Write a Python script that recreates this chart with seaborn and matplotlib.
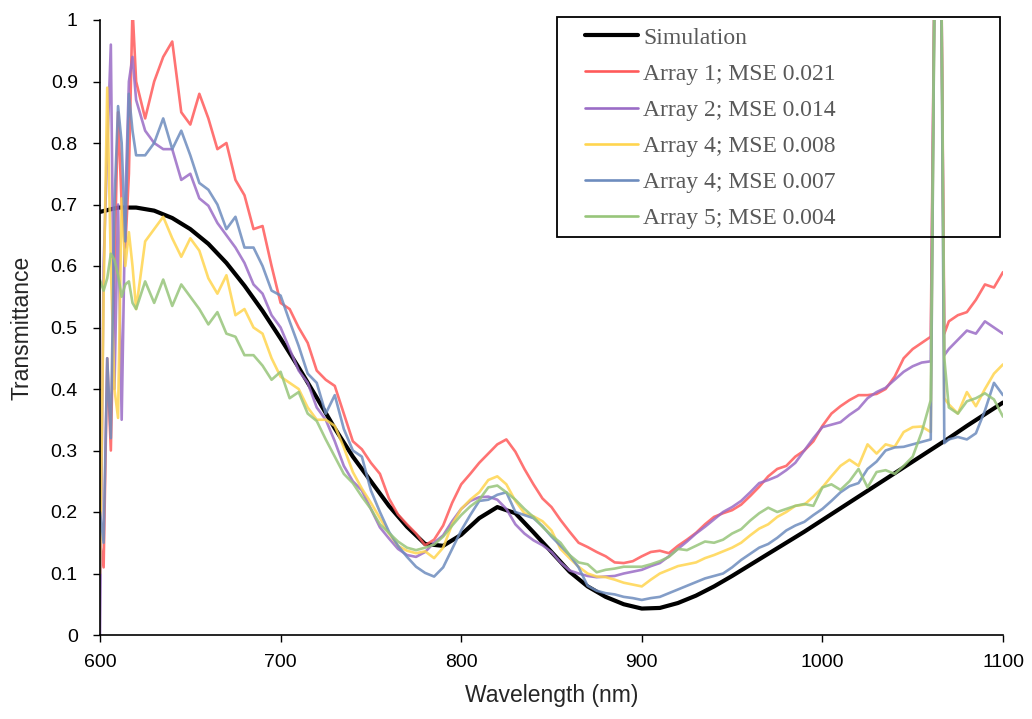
import numpy as np
import pandas as pd
import matplotlib
matplotlib.use("Agg")
import matplotlib.pyplot as plt
from matplotlib.patches import Rectangle
import seaborn as sns

# ---------------- data ----------------
sim_wl = [600, 610, 620, 630, 640, 650, 660, 670, 680, 690, 700, 710, 720, 730, 740,
          750, 760, 770, 780, 790, 800, 810, 820, 830, 840, 850, 860, 870, 880, 890,
          900, 910, 920, 930, 940, 950, 960, 970, 980, 990, 1000, 1010, 1020, 1030,
          1040, 1050, 1060, 1070, 1080, 1090, 1100]
sim_t = [0.688, 0.695, 0.695, 0.690, 0.678, 0.660, 0.636, 0.605, 0.568, 0.527, 0.482,
         0.435, 0.386, 0.336, 0.290, 0.250, 0.210, 0.176, 0.148, 0.145, 0.163, 0.190,
         0.208, 0.198, 0.167, 0.135, 0.103, 0.079, 0.062, 0.050, 0.043, 0.044, 0.052,
         0.064, 0.079, 0.096, 0.114, 0.132, 0.150, 0.168, 0.187, 0.206, 0.225, 0.244,
         0.263, 0.282, 0.301, 0.320, 0.340, 0.359, 0.378]

wl = ([600, 602, 604, 606, 608, 610, 612, 614, 616, 618, 620]
      + list(range(625, 1061, 5))
      + [1062.5, 1064, 1065.5, 1067.5]
      + list(range(1070, 1101, 5)))

array1 = [0.15, 0.11, 0.45, 0.30, 0.60, 0.85, 0.70, 0.63, 0.75, 1.02, 0.90,
          0.84, 0.90, 0.94, 0.965, 0.85, 0.83, 0.88, 0.84, 0.79, 0.80, 0.74, 0.715,
          0.66, 0.665, 0.60, 0.54, 0.53, 0.50, 0.475, 0.43, 0.415, 0.405, 0.36, 0.315,
          0.302, 0.28, 0.262, 0.222, 0.196, 0.18, 0.165, 0.146, 0.155, 0.178, 0.215,
          0.245, 0.262, 0.28, 0.295, 0.31, 0.318, 0.298, 0.27, 0.245, 0.222, 0.208,
          0.187, 0.168, 0.15, 0.143, 0.135, 0.128, 0.118, 0.117, 0.12, 0.128, 0.135,
          0.137, 0.133, 0.145, 0.155, 0.166, 0.18, 0.192, 0.198, 0.203, 0.212, 0.226,
          0.241, 0.258, 0.27, 0.275, 0.29, 0.30, 0.315, 0.34, 0.36, 0.372, 0.382, 0.39,
          0.39, 0.392, 0.40, 0.42, 0.45, 0.465, 0.475, 0.485,
          1.2, 1.3, 1.2, 0.49,
          0.51, 0.52, 0.525, 0.545, 0.57, 0.565, 0.59]

array2 = [0.0, 0.60, 0.79, 0.96, 0.40, 0.70, 0.35, 0.70, 0.90, 0.94, 0.87,
          0.82, 0.80, 0.79, 0.79, 0.74, 0.75, 0.71, 0.698, 0.67, 0.65, 0.63, 0.605,
          0.57, 0.555, 0.52, 0.50, 0.465, 0.43, 0.41, 0.37, 0.35, 0.315, 0.275, 0.25,
          0.235, 0.205, 0.175, 0.157, 0.14, 0.13, 0.127, 0.135, 0.15, 0.162, 0.185,
          0.205, 0.218, 0.224, 0.225, 0.22, 0.205, 0.18, 0.165, 0.154, 0.146, 0.135,
          0.118, 0.105, 0.10, 0.096, 0.094, 0.095, 0.096, 0.10, 0.103, 0.106, 0.112,
          0.117, 0.128, 0.14, 0.152, 0.165, 0.176, 0.188, 0.20, 0.208, 0.218, 0.232,
          0.247, 0.252, 0.258, 0.268, 0.28, 0.30, 0.32, 0.338, 0.342, 0.346, 0.358,
          0.368, 0.385, 0.395, 0.402, 0.415, 0.428, 0.437, 0.443, 0.445,
          1.2, 1.3, 1.2, 0.455,
          0.465, 0.48, 0.495, 0.49, 0.51, 0.50, 0.49]

array4a = [0.10, 0.55, 0.89, 0.60, 0.40, 0.353, 0.71, 0.60, 0.655, 0.60, 0.53,
           0.64, 0.66, 0.68, 0.645, 0.615, 0.645, 0.625, 0.58, 0.555, 0.585, 0.52, 0.53,
           0.50, 0.49, 0.45, 0.42, 0.41, 0.40, 0.37, 0.35, 0.35, 0.34, 0.305, 0.265,
           0.238, 0.215, 0.19, 0.165, 0.145, 0.137, 0.133, 0.136, 0.125, 0.142, 0.18,
           0.205, 0.22, 0.232, 0.252, 0.258, 0.245, 0.218, 0.198, 0.193, 0.185, 0.17,
           0.14, 0.125, 0.111, 0.10, 0.095, 0.094, 0.09, 0.085, 0.082, 0.079, 0.09,
           0.10, 0.106, 0.112, 0.115, 0.118, 0.125, 0.13, 0.136, 0.142, 0.15, 0.162,
           0.173, 0.18, 0.192, 0.20, 0.21, 0.212, 0.225, 0.24, 0.258, 0.275, 0.285,
           0.275, 0.31, 0.295, 0.31, 0.306, 0.33, 0.338, 0.339, 0.33,
           1.2, 1.3, 1.2, 0.385,
           0.375, 0.36, 0.395, 0.372, 0.40, 0.425, 0.44]

array4b = [0.20, 0.15, 0.45, 0.32, 0.70, 0.86, 0.80, 0.64, 0.88, 0.82, 0.78,
           0.78, 0.80, 0.84, 0.79, 0.82, 0.78, 0.735, 0.724, 0.70, 0.66, 0.68, 0.63,
           0.63, 0.60, 0.56, 0.552, 0.51, 0.47, 0.425, 0.41, 0.36, 0.39, 0.335, 0.30,
           0.29, 0.235, 0.20, 0.168, 0.145, 0.127, 0.111, 0.101, 0.095, 0.11, 0.14,
           0.17, 0.195, 0.218, 0.22, 0.228, 0.232, 0.20, 0.195, 0.19, 0.177, 0.16,
           0.145, 0.13, 0.11, 0.08, 0.072, 0.068, 0.066, 0.062, 0.06, 0.057, 0.06,
           0.062, 0.068, 0.074, 0.08, 0.086, 0.092, 0.096, 0.10, 0.11, 0.122, 0.132,
           0.142, 0.148, 0.158, 0.17, 0.178, 0.184, 0.195, 0.205, 0.218, 0.232, 0.242,
           0.247, 0.27, 0.282, 0.30, 0.305, 0.306, 0.31, 0.314, 0.318,
           1.2, 1.3, 1.2, 0.312,
           0.318, 0.322, 0.318, 0.328, 0.365, 0.41, 0.39]

array5 = [0.577, 0.56, 0.58, 0.62, 0.61, 0.585, 0.55, 0.57, 0.575, 0.54, 0.53,
          0.575, 0.54, 0.578, 0.535, 0.57, 0.55, 0.53, 0.505, 0.525, 0.49, 0.485, 0.455,
          0.455, 0.438, 0.415, 0.428, 0.385, 0.395, 0.36, 0.348, 0.318, 0.29, 0.262,
          0.247, 0.225, 0.205, 0.18, 0.166, 0.152, 0.142, 0.138, 0.142, 0.147, 0.16,
          0.178, 0.195, 0.209, 0.22, 0.24, 0.243, 0.232, 0.22, 0.205, 0.192, 0.176,
          0.162, 0.15, 0.13, 0.118, 0.115, 0.102, 0.106, 0.108, 0.111, 0.111, 0.111,
          0.115, 0.12, 0.127, 0.14, 0.138, 0.145, 0.152, 0.15, 0.155, 0.165, 0.172,
          0.186, 0.198, 0.207, 0.20, 0.205, 0.21, 0.213, 0.21, 0.24, 0.245, 0.236,
          0.25, 0.27, 0.24, 0.265, 0.268, 0.262, 0.275, 0.29, 0.33, 0.382,
          1.2, 1.3, 1.2, 0.45,
          0.37, 0.36, 0.38, 0.385, 0.393, 0.383, 0.355]

labels = ["Simulation", "Array 1; MSE 0.021", "Array 2; MSE 0.014",
          "Array 4; MSE 0.008", "Array 4; MSE 0.007", "Array 5; MSE 0.004"]
colors = ["#000000", "#FF5A5A", "#9A6CC6", "#FFD54F", "#6D8CBE", "#97C57A"]

# ---------------- plot ----------------
sns.set_style("ticks")
plt.rcParams["font.family"] = ["Liberation Sans", "DejaVu Sans"]

W, H = 1032, 719
fig = plt.figure(figsize=(W / 100, H / 100), dpi=100)
ax = fig.add_axes([100 / W, 1 - 635 / H, 903 / W, 615 / H])

sim_df = pd.DataFrame({"wl": sim_wl, "t": sim_t})
sns.lineplot(data=sim_df, x="wl", y="t", ax=ax, color=colors[0], linewidth=3.0,
             label=labels[0], sort=False)

series = [array1, array2, array4a, array4b, array5]
for vals, lab, col in zip(series, labels[1:], colors[1:]):
    df = pd.DataFrame({"wl": wl, "t": vals})
    sns.lineplot(data=df, x="wl", y="t", ax=ax, color=col, linewidth=1.9,
                 alpha=0.85, label=lab, sort=False)

ax.set_xlim(600, 1100)
ax.set_ylim(0, 1)
ax.set_xticks([600, 700, 800, 900, 1000, 1100])
ax.set_yticks([0, 0.1, 0.2, 0.3, 0.4, 0.5, 0.6, 0.7, 0.8, 0.9, 1.0])
ax.set_yticklabels(["0", "0.1", "0.2", "0.3", "0.4", "0.5", "0.6", "0.7", "0.8", "0.9", "1"])
ax.tick_params(axis="both", labelsize=14, colors="black", length=5, width=1, direction="out")
ax.tick_params(axis="x", pad=9)
ax.tick_params(axis="y", pad=11)
ax.set_xlabel("Wavelength (nm)", fontsize=16.5, labelpad=9)
ax.set_ylabel("Transmittance", fontsize=16.5, labelpad=12)
sns.despine(ax=ax)
for sp in ["left", "bottom"]:
    ax.spines[sp].set_color("black")
    ax.spines[sp].set_linewidth(1.2)

leg = ax.legend(loc="upper left", bbox_to_anchor=(585 / W, 1 - 27 / H),
                bbox_transform=fig.transFigure, frameon=False,
                prop={"family": ["Liberation Serif", "DejaVu Serif"], "size": 17},
                handlelength=2.25, handletextpad=0.22, borderpad=0, labelspacing=0.62,
                borderaxespad=0)
for t in leg.get_texts():
    t.set_color("#595959")
for h in leg.get_lines():
    h.set_alpha(1)

frame = Rectangle((557 / W, 1 - 237 / H), 443 / W, 220 / H, transform=fig.transFigure,
                  fill=False, edgecolor="black", linewidth=1.3, clip_on=False, zorder=10)
fig.patches.append(frame)

fig.savefig("out.png", dpi=100)
